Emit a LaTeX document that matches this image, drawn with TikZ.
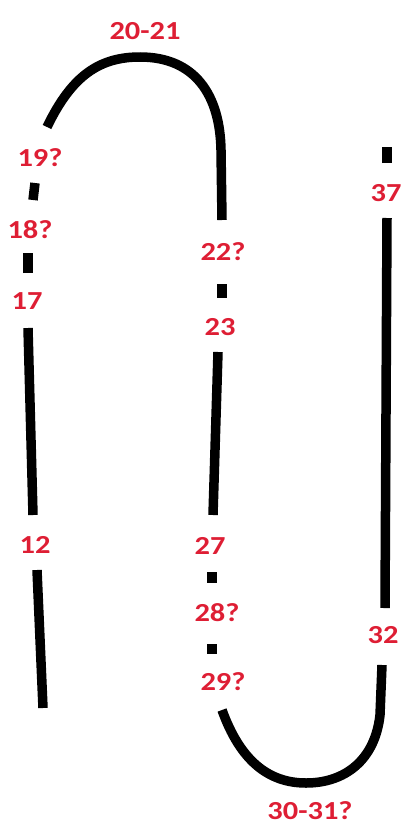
\documentclass[tikz,border=0pt]{standalone}
\usepackage{fontspec}
\setmainfont{Carlito}[FakeStretch=1.17]
\definecolor{lblred}{RGB}{222,30,52}
\begin{document}
\begin{tikzpicture}[x=1pt,y=-1pt,
  strand/.style={line width=9.5pt,black},
  lbl/.style={text=lblred,font=\bfseries\fontsize{26}{26}\selectfont,inner sep=0pt}]
\useasboundingbox (0,0) rectangle (404,827);
% labels
\node[lbl] (l2021) at (145,31) {20-21};
\node[lbl] (l19) at (40,158) {19?};
\node[lbl] (l18) at (30,230) {18?};
\node[lbl] (l17) at (27,301) {17};
\node[lbl] (l12) at (35,545) {12};
\node[lbl] (l22) at (223,252) {22?};
\node[lbl] (l23) at (220,327) {23};
\node[lbl] (l27) at (210,546) {27};
\node[lbl] (l28) at (217,613) {28?};
\node[lbl] (l29) at (223,682) {29?};
\node[lbl] (l3031) at (310,811) {30-31?};
\node[lbl] (l32) at (383,635) {32};
\node[lbl] (l37) at (386,193) {37};
% strand coordinates
\coordinate (a1) at (43,708);
\coordinate (a2) at (37,570);
\coordinate (b1) at (33,515);
\coordinate (b2) at (28,328);
\coordinate (c1) at (28,273);
\coordinate (c2) at (28,253);
\coordinate (d1) at (33,200);
\coordinate (d2) at (35,183);
\coordinate (e1) at (47,127);
\coordinate (etop) at (140,57);
\coordinate (e2) at (222,220);
\coordinate (f1) at (222,284);
\coordinate (f2) at (222,298);
\coordinate (g1) at (218,352);
\coordinate (g2) at (213,515);
\coordinate (h1) at (212,572);
\coordinate (h2) at (212,583);
\coordinate (i1) at (212,644);
\coordinate (i2) at (212,654);
\coordinate (j1) at (222,710);
\coordinate (jbot) at (306,783);
\coordinate (j2) at (382,665);
\coordinate (k1) at (385,608);
\coordinate (k2) at (387,218);
\coordinate (m1) at (387,163);
\coordinate (m2) at (387,147);
% strands
\draw[strand] (a1) -- (a2);
\draw[strand] (b1) -- (b2);
\draw[strand] (c1) -- (c2);
\draw[strand] (d1) -- (d2);
\draw[strand] (e1) .. controls (72,75) and (100,57) .. (etop)
  .. controls (195,57) and (220,95) .. (221,150) -- (e2);
\draw[strand] (f1) -- (f2);
\draw[strand] (g1) -- (g2);
\draw[strand] (h1) -- (h2);
\draw[strand] (i1) -- (i2);
\draw[strand] (j1) .. controls (240,760) and (268,783) .. (jbot)
  .. controls (345,783) and (375,760) .. (380,715) -- (j2);
\draw[strand] (k1) -- (k2);
\draw[strand] (m1) -- (m2);
\end{tikzpicture}
\end{document}
